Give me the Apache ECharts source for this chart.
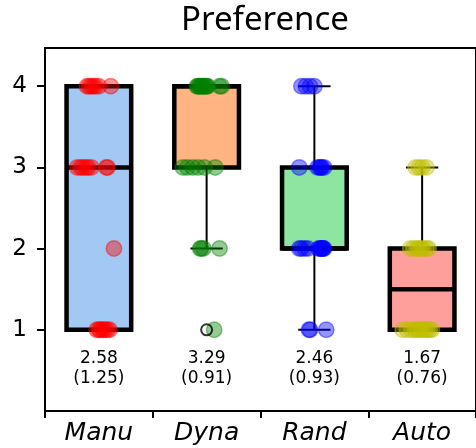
<!DOCTYPE html>
<html>
<head>
<meta charset="utf-8">
<script src="https://cdn.jsdelivr.net/npm/echarts@6/dist/echarts.min.js"></script>
<style>
  html, body { margin: 0; padding: 0; background: #fff; }
  #chart { width: 476px; height: 448px; }
</style>
</head>
<body>
<div id="chart"></div>
<script>
// Preference scores (1-4 scale), 24 responses per condition.
const categories = ['Manu', 'Dyna', 'Rand', 'Auto'];

const manuScores = [1, 1, 1, 1, 1, 1, 1, 1, 2, 3, 3, 3, 3, 3, 3, 3, 3, 4, 4, 4, 4, 4, 4, 4];
const dynaScores = [1, 2, 2, 2, 2, 3, 3, 3, 3, 3, 3, 4, 4, 4, 4, 4, 4, 4, 4, 4, 4, 4, 4, 4];
const randScores = [1, 1, 1, 2, 2, 2, 2, 2, 2, 2, 2, 2, 2, 2, 3, 3, 3, 3, 3, 3, 4, 4, 4, 4];
const autoScores = [1, 1, 1, 1, 1, 1, 1, 1, 1, 1, 1, 1, 2, 2, 2, 2, 2, 2, 2, 2, 3, 3, 3, 3];

// Horizontal jitter of each response dot, in category widths.
const manuJitter = [-0.02, 0.0, 0.01, 0.03, 0.04, 0.06, 0.08, 0.1, 0.14,
  -0.2, -0.17, -0.15, -0.12, -0.1, -0.07, 0.07, 0.08,
  -0.11, -0.09, -0.07, -0.05, -0.03, 0.0, 0.11];
const dynaJitter = [0.07, -0.06, -0.05, -0.03, 0.12,
  -0.22, -0.18, -0.13, -0.08, -0.02, 0.08,
  -0.09, -0.08, -0.07, -0.06, -0.05, -0.04, -0.03, -0.02, -0.01, 0.0, 0.01, 0.12, 0.14];
const randJitter = [-0.05, -0.04, 0.11,
  -0.14, -0.12, -0.09, -0.06, 0.04, 0.05, 0.06, 0.07, 0.08, 0.08, 0.09,
  -0.14, 0.03, 0.05, 0.06, 0.07, 0.09,
  -0.12, -0.08, -0.04, 0.0];
const autoJitter = [-0.18, -0.14, -0.1, -0.07, -0.05, -0.03, -0.01, 0.01, 0.03, 0.05, 0.07, 0.09,
  -0.11, -0.08, -0.05, -0.03, -0.01, 0.01, 0.04, 0.06,
  -0.06, -0.03, 0.0, 0.04];

const yTicks = [1, 2, 3, 4];

const groups = [manuScores, dynaScores, randScores, autoScores];
const jitters = [manuJitter, dynaJitter, randJitter, autoJitter];

const boxFills = ['#a1c9f4', '#ffb482', '#8de5a1', '#ff9f9b'];
const dotColors = ['#ff0000', '#008000', '#0000ff', '#bfbf00'];

// --- summary statistics -------------------------------------------------
function quantile(sorted, p) {
  const pos = (sorted.length - 1) * p;
  const lo = Math.floor(pos);
  const hi = Math.min(lo + 1, sorted.length - 1);
  return sorted[lo] + (pos - lo) * (sorted[hi] - sorted[lo]);
}
function boxStats(values) {
  const s = values.slice().sort((a, b) => a - b);
  const q1 = quantile(s, 0.25), med = quantile(s, 0.5), q3 = quantile(s, 0.75);
  const iqr = q3 - q1;
  const inside = s.filter(v => v >= q1 - 1.5 * iqr && v <= q3 + 1.5 * iqr);
  const low = Math.min(...inside), high = Math.max(...inside);
  const outliers = s.filter(v => v < q1 - 1.5 * iqr || v > q3 + 1.5 * iqr);
  return { q1, med, q3, low, high, outliers };
}
function meanSd(values) {
  const n = values.length;
  const m = values.reduce((a, b) => a + b, 0) / n;
  const ss = values.reduce((a, v) => a + (v - m) * (v - m), 0);
  return { mean: m, sd: Math.sqrt(ss / (n - 1)) };
}

const stats = groups.map(boxStats);
const summaries = groups.map(meanSd);

const boxData = stats.map((s, i) => [i, s.low, s.q1, s.med, s.q3, s.high]);
const outlierData = [];
stats.forEach((s, i) => s.outliers.forEach(v => outlierData.push([i, v])));
const labelData = summaries.map((s, i) => [i, s.mean, s.sd]);

// --- chart --------------------------------------------------------------
const chart = echarts.init(document.getElementById('chart'), null, { renderer: 'canvas' });

const FONT = 'DejaVu Sans';

function renderBox(params, api) {
  const i = api.value(0);
  const cx = api.coord([i, 0])[0];
  const halfBox = api.size([0.6, 0])[0] / 2;
  const halfCap = halfBox / 2;
  const y = v => api.coord([i, v])[1];
  const yLow = y(api.value(1)), yQ1 = y(api.value(2)), yMed = y(api.value(3));
  const yQ3 = y(api.value(4)), yHigh = y(api.value(5));
  const thin = { stroke: '#000', lineWidth: 2 };
  const thick = { stroke: '#000', lineWidth: 4.5 };
  return {
    type: 'group',
    children: [
      { type: 'line', shape: { x1: cx, y1: yQ3, x2: cx, y2: yHigh }, style: thin },
      { type: 'line', shape: { x1: cx - halfCap, y1: yHigh, x2: cx + halfCap, y2: yHigh }, style: thin },
      { type: 'line', shape: { x1: cx, y1: yQ1, x2: cx, y2: yLow }, style: thin },
      { type: 'line', shape: { x1: cx - halfCap, y1: yLow, x2: cx + halfCap, y2: yLow }, style: thin },
      { type: 'rect', shape: { x: cx - halfBox, y: yQ3, width: halfBox * 2, height: yQ1 - yQ3 },
        style: { fill: boxFills[params.dataIndex], stroke: '#000', lineWidth: 4.5, lineJoin: 'miter' } },
      { type: 'line', shape: { x1: cx - halfBox, y1: yMed, x2: cx + halfBox, y2: yMed }, style: thick }
    ]
  };
}

function renderSummary(params, api) {
  const i = api.value(0);
  const p1 = api.coord([i, 0.64]);
  const p2 = api.coord([i, 0.405]);
  const textStyle = t => ({
    text: t, fontSize: 17, fontFamily: FONT, fill: '#000', align: 'center', verticalAlign: 'middle'
  });
  return {
    type: 'group',
    children: [
      { type: 'text', x: p1[0], y: p1[1], style: textStyle(api.value(1).toFixed(2)) },
      { type: 'text', x: p2[0], y: p2[1], style: textStyle('(' + api.value(2).toFixed(2) + ')') }
    ]
  };
}

const dotSeries = groups.map((scores, g) => ({
  type: 'scatter',
  xAxisIndex: 1,
  yAxisIndex: 0,
  symbol: 'circle',
  symbolSize: 15.5,
  z: 4,
  silent: true,
  itemStyle: { color: dotColors[g], borderColor: dotColors[g], borderWidth: 1.5, opacity: 0.42 },
  data: scores.map((v, k) => [g + jitters[g][k], v])
}));

chart.setOption({
  animation: false,
  graphic: [{
    type: 'text', x: 265, y: 21,
    style: { text: 'Preference', fontSize: 33, fontFamily: 'Noto Sans', fill: '#000', align: 'center', verticalAlign: 'middle' }
  }],
  grid: { left: 45, top: 48, width: 440, height: 363, show: true, borderColor: '#000', borderWidth: 2, backgroundColor: 'transparent' },
  xAxis: [{
    type: 'category',
    data: categories,
    boundaryGap: true,
    axisLine: { onZero: false, lineStyle: { color: '#000', width: 2 } },
    axisTick: { show: true, length: 7, lineStyle: { color: '#000', width: 2 } },
    axisLabel: { color: '#000', fontFamily: FONT, fontSize: 25, fontStyle: 'italic', margin: 10 },
    splitLine: { show: false }
  }, {
    type: 'value',
    min: -0.5, max: 3.5,
    show: false,
    splitLine: { show: false }
  }],
  yAxis: [{
    type: 'value',
    min: 0, max: 4.47,
    interval: 1,
    axisLine: { show: true, onZero: false, lineStyle: { color: '#000', width: 2 } },
    axisTick: { show: true, length: 8, customValues: yTicks, lineStyle: { color: '#000', width: 2 } },
    axisLabel: { color: '#000', fontFamily: FONT, fontSize: 23, margin: 18, customValues: yTicks },
    splitLine: { show: false }
  }],
  series: [
    {
      type: 'custom',
      xAxisIndex: 1,
      yAxisIndex: 0,
      z: 2,
      silent: true,
      renderItem: renderBox,
      encode: { x: 0, y: [1, 2, 3, 4, 5] },
      data: boxData
    },
    ...dotSeries,
    {
      type: 'scatter',
      xAxisIndex: 1,
      yAxisIndex: 0,
      symbol: 'circle',
      symbolSize: 11,
      z: 5,
      silent: true,
      itemStyle: { color: 'rgba(0,0,0,0)', borderColor: '#000', borderWidth: 2 },
      data: outlierData
    },
    {
      type: 'custom',
      xAxisIndex: 1,
      yAxisIndex: 0,
      z: 6,
      silent: true,
      renderItem: renderSummary,
      encode: { x: 0, y: 1 },
      data: labelData
    }
  ]
});
</script>
</body>
</html>
